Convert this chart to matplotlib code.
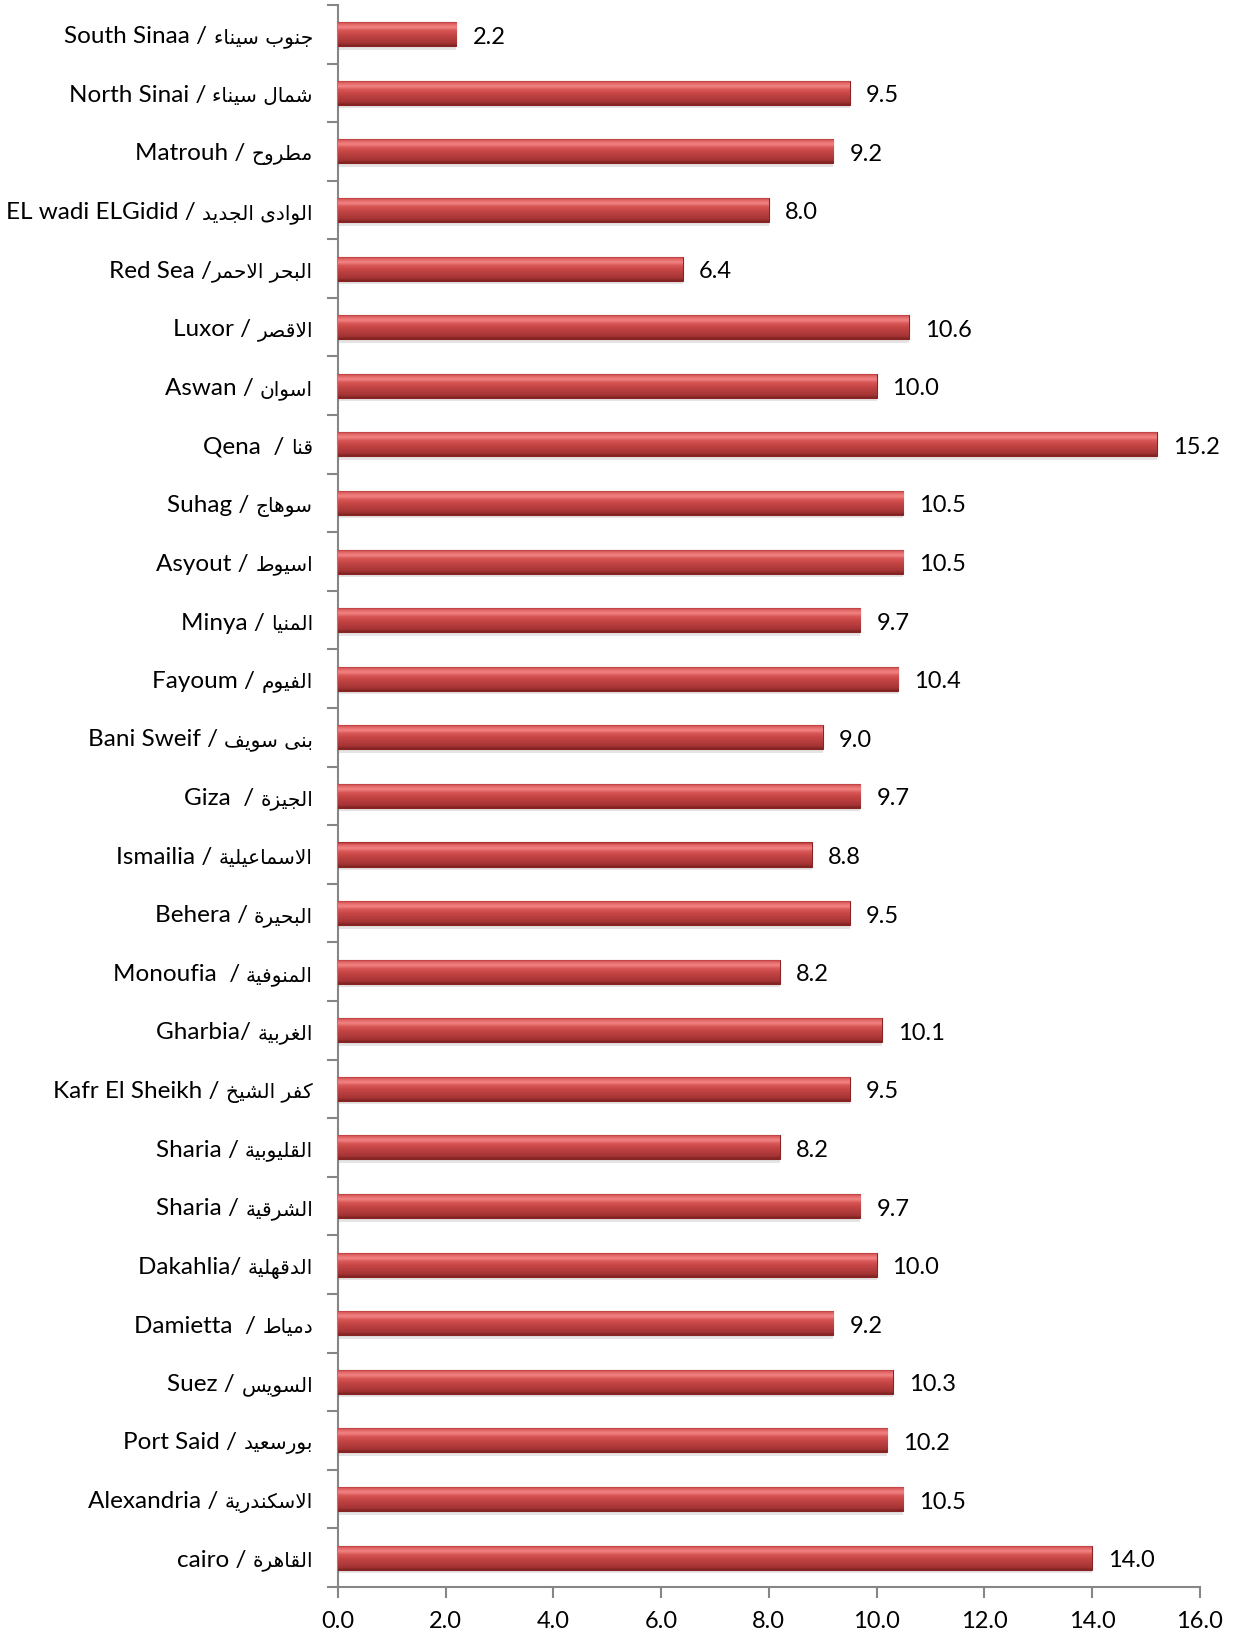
import numpy as np
import matplotlib
matplotlib.use("Agg")
import matplotlib.pyplot as plt
from matplotlib.colors import LinearSegmentedColormap
from matplotlib.offsetbox import TextArea, HPacker, AnnotationBbox

plt.rcParams['font.family'] = ['Lato', 'DejaVu Sans']

# Data (top to bottom as in the chart)
regions = [
    "South Sinaa / جنوب سيناء",
    "North Sinai / شمال سيناء",
    "Matrouh / مطروح",
    "EL wadi ELGidid / الوادى الجديد",
    "Red Sea /البحر الاحمر",
    "Luxor / الاقصر",
    "Aswan / اسوان",
    "Qena  / قنا",
    "Suhag / سوهاج",
    "Asyout / اسيوط",
    "Minya / المنيا",
    "Fayoum / الفيوم",
    "Bani Sweif / بنى سويف",
    "Giza  / الجيزة",
    "Ismailia / الاسماعيلية",
    "Behera / البحيرة",
    "Monoufia  / المنوفية",
    "Gharbia/ الغربية",
    "Kafr El Sheikh / كفر الشيخ",
    "Sharia / القليوبية",
    "Sharia / الشرقية",
    "Dakahlia/ الدقهلية",
    "Damietta  / دمياط",
    "Suez / السويس",
    "Port Said / بورسعيد",
    "Alexandria / الاسكندرية",
    "cairo / القاهرة",
]
values = [2.2, 9.5, 9.2, 8.0, 6.4, 10.6, 10.0, 15.2, 10.5, 10.5, 9.7, 10.4, 9.0, 9.7,
          8.8, 9.5, 8.2, 10.1, 9.5, 8.2, 9.7, 10.0, 9.2, 10.3, 10.2, 10.5, 14.0]
xticks = [0, 2, 4, 6, 8, 10, 12, 14, 16]

# simple arabic shaping (presentation forms) + right-to-left order
AR = {'ء': (0xFE80, 1), 'ا': (0xFE8D, 2), 'ب': (0xFE8F, 4), 'ة': (0xFE93, 2),
      'ت': (0xFE95, 4), 'ث': (0xFE99, 4), 'ج': (0xFE9D, 4), 'ح': (0xFEA1, 4),
      'خ': (0xFEA5, 4), 'د': (0xFEA9, 2), 'ذ': (0xFEAB, 2), 'ر': (0xFEAD, 2),
      'ز': (0xFEAF, 2), 'س': (0xFEB1, 4), 'ش': (0xFEB5, 4), 'ص': (0xFEB9, 4),
      'ض': (0xFEBD, 4), 'ط': (0xFEC1, 4), 'ظ': (0xFEC5, 4), 'ع': (0xFEC9, 4),
      'غ': (0xFECD, 4), 'ف': (0xFED1, 4), 'ق': (0xFED5, 4), 'ك': (0xFED9, 4),
      'ل': (0xFEDD, 4), 'م': (0xFEE1, 4), 'ن': (0xFEE5, 4), 'ه': (0xFEE9, 4),
      'و': (0xFEED, 2), 'ى': (0xFEEF, 2), 'ي': (0xFEF1, 4)}


def shape_ar(s):
    out = []
    i = 0
    while i < len(s):
        c = s[i]
        if c not in AR:
            out.append(c)
            i += 1
            continue
        prev = s[i - 1] if i > 0 else ''
        jp = prev in AR and AR[prev][1] == 4
        if c == 'ل' and i + 1 < len(s) and s[i + 1] == 'ا':
            out.append('\uFEFC' if jp else '\uFEFB')
            i += 2
            continue
        nxt = s[i + 1] if i + 1 < len(s) else ''
        base, n = AR[c]
        jn = n == 4 and nxt in AR and AR[nxt][1] > 1
        if n == 1:
            f = base
        elif n == 2:
            f = base + 1 if jp else base
        else:
            f = base + (3 if (jp and jn) else 1 if jp else 2 if jn else 0)
        out.append(chr(f))
        i += 1
    return ''.join(out)[::-1]


def split_label(s):
    for k, ch in enumerate(s):
        if ch in AR:
            return s[:k], shape_ar(s[k:])
    return s, ''


n = len(values)
ypos = np.arange(n)[::-1]

fig = plt.figure(figsize=(12.38, 16.36), dpi=100)
ax = fig.add_axes([0.273, 0.030, 0.696, 0.967])

# soft shadow under bars
ax.barh(ypos - 0.06, values, height=0.41, color='#9a9a9a', alpha=0.25, zorder=2)
bars = ax.barh(ypos, values, height=0.41, color='#C84444', edgecolor='#8a2424',
               linewidth=0.8, zorder=3)

cmap = LinearSegmentedColormap.from_list(
    'bevel', [(0.0, '#7e2222'), (0.12, '#a63434'), (0.45, '#c44545'),
              (0.62, '#d95555'), (0.76, '#f28484'), (0.9, '#e06060'), (1.0, '#a02a2a')])
grad = np.linspace(0, 1, 100).reshape(-1, 1)
for b in bars:
    x0, y0, w, h = b.get_x(), b.get_y(), b.get_width(), b.get_height()
    im = ax.imshow(grad, cmap=cmap, aspect='auto', origin='lower',
                   extent=(x0, x0 + w, y0, y0 + h), zorder=4)
    im.set_clip_path(b)
    ax.annotate(f"{w:.1f}", (x0 + w, y0 + h / 2), xytext=(16, -3),
                textcoords='offset pixels', va='center', ha='left',
                fontsize=17, color='black')

# category labels: latin part + arabic part
for y, s in zip(ypos, regions):
    lat, ar = split_label(s)
    box = HPacker(children=[TextArea(lat, textprops=dict(fontsize=17.5, family='Lato')),
                            TextArea(ar, textprops=dict(fontsize=14.5, family='DejaVu Sans'))],
                  align='baseline', pad=0, sep=0)
    ab = AnnotationBbox(box, (0, y), xybox=(-25, -3), xycoords=('axes fraction', 'data'),
                        boxcoords='offset pixels', box_alignment=(1, 0.5),
                        frameon=False, annotation_clip=False)
    ax.add_artist(ab)

ax.set_xlim(0, 16)
ax.set_ylim(-0.5, n - 0.5)
ax.set_aspect('auto')

ax.set_xticks(xticks)
ax.set_xticklabels([f"{t:.1f}" for t in xticks], fontsize=17)
ax.set_yticks(np.arange(-0.5, n, 1.0))
ax.set_yticklabels([])
ax.tick_params(axis='y', which='major', length=8, width=1.5, color='#868686', direction='out')
ax.tick_params(axis='x', length=8, width=1.5, color='#868686', direction='out', pad=9)

for side in ['top', 'right']:
    ax.spines[side].set_visible(False)
for side in ['left', 'bottom']:
    ax.spines[side].set_color('#868686')
    ax.spines[side].set_linewidth(1.5)

fig.savefig("out.png", dpi=100)
